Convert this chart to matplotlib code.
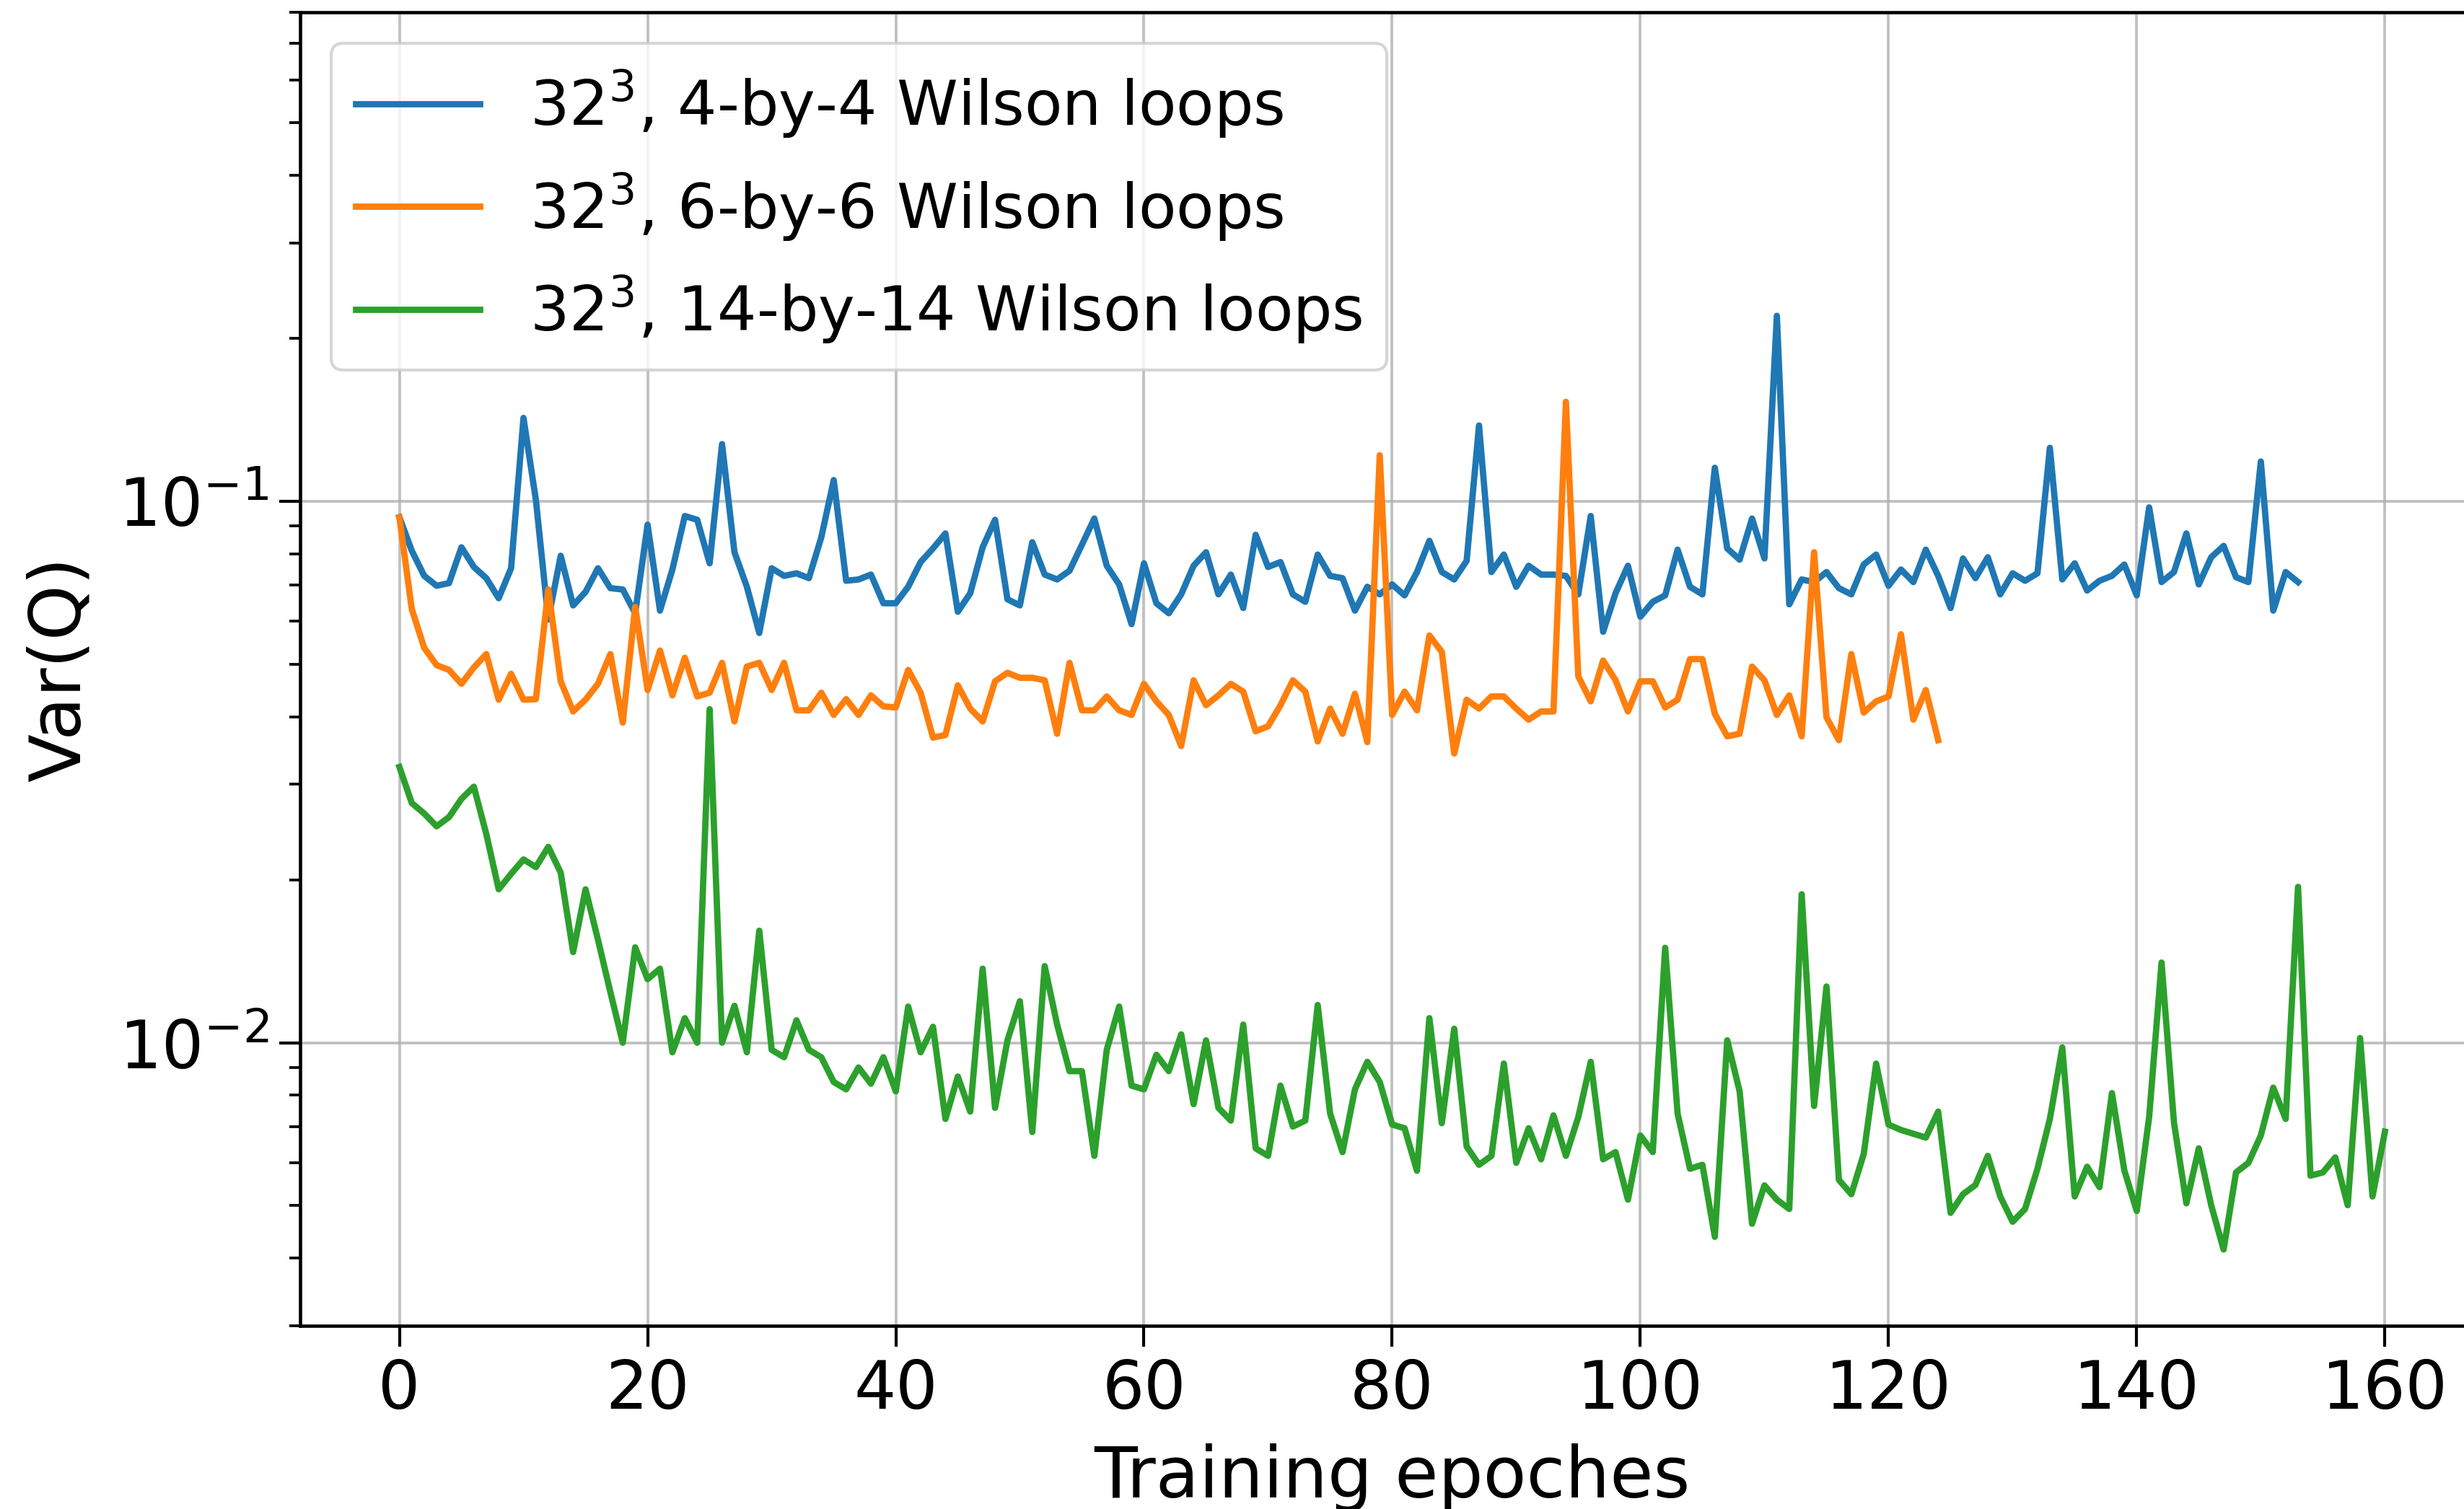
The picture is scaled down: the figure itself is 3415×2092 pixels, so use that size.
import numpy as np
import matplotlib
matplotlib.use('Agg')
import matplotlib.pyplot as plt

# Var(Q) per training epoch
var_4x4 = [0.0934, 0.081, 0.0728, 0.0698, 0.0706, 0.0822, 0.0756, 0.0721, 0.0662, 0.0752,
           0.1425, 0.1005, 0.0605, 0.0793, 0.0642, 0.068, 0.0752, 0.0691, 0.0687, 0.0621,
           0.0905, 0.0628, 0.0748, 0.0939, 0.0924, 0.0768, 0.1275, 0.0805, 0.0695, 0.0571,
           0.0752, 0.0728, 0.0736, 0.0721, 0.0858, 0.1094, 0.0713, 0.0717, 0.0732, 0.0648,
           0.0648, 0.0695, 0.0772, 0.0818, 0.0872, 0.0625, 0.0676, 0.0822, 0.0924, 0.0659,
           0.0642, 0.084, 0.0732, 0.0717, 0.0744, 0.0831, 0.0929, 0.076, 0.0702, 0.0593,
           0.0768, 0.0648, 0.0621, 0.0673, 0.076, 0.0805, 0.0673, 0.0732, 0.0635, 0.0867,
           0.0756, 0.0772, 0.0673, 0.0652, 0.0797, 0.0728, 0.0721, 0.0628, 0.0695, 0.0673,
           0.0702, 0.067, 0.074, 0.0845, 0.074, 0.0717, 0.0776, 0.138, 0.074, 0.0797,
           0.0695, 0.076, 0.0732, 0.0732, 0.0728, 0.0673, 0.0939, 0.0574, 0.0676, 0.076,
           0.0612, 0.0652, 0.067, 0.0814, 0.0695, 0.0673, 0.1153, 0.0818, 0.078, 0.0929,
           0.0784, 0.22, 0.0645, 0.0717, 0.0709, 0.074, 0.0691, 0.0673, 0.0764, 0.0797,
           0.0698, 0.0748, 0.0709, 0.0814, 0.0728, 0.0635, 0.0784, 0.0721, 0.0788, 0.0673,
           0.0736, 0.0713, 0.0736, 0.1255, 0.0717, 0.0768, 0.0684, 0.0713, 0.0728, 0.0764,
           0.067, 0.0974, 0.0709, 0.074, 0.0872, 0.0702, 0.0788, 0.0827, 0.0724, 0.0709,
           0.1184, 0.0628, 0.074, 0.0709]

var_6x6 = [0.0934, 0.0632, 0.0536, 0.0498, 0.0488, 0.046, 0.0493, 0.0522, 0.043, 0.048,
           0.043, 0.0431, 0.0687, 0.0465, 0.0409, 0.043, 0.046, 0.0522, 0.039, 0.0638,
           0.0448, 0.053, 0.0438, 0.0514, 0.0436, 0.0443, 0.0503, 0.0392, 0.0495, 0.0503,
           0.0448, 0.0503, 0.0411, 0.0411, 0.0443, 0.0403, 0.0431, 0.0403, 0.0438, 0.0418,
           0.0416, 0.0488, 0.0443, 0.0366, 0.037, 0.0457, 0.0414, 0.0392, 0.0465, 0.0482,
           0.0472, 0.0472, 0.0467, 0.0372, 0.0503, 0.0411, 0.0411, 0.0436, 0.0411, 0.0403,
           0.046, 0.0427, 0.0403, 0.0353, 0.0467, 0.042, 0.0438, 0.046, 0.0445, 0.0376,
           0.0384, 0.042, 0.0467, 0.0445, 0.036, 0.0414, 0.0372, 0.0441, 0.0359, 0.1216,
           0.0403, 0.0445, 0.0411, 0.0565, 0.0527, 0.0342, 0.043, 0.0414, 0.0436, 0.0436,
           0.0414, 0.0395, 0.0409, 0.0409, 0.1526, 0.0475, 0.0427, 0.0508, 0.0467, 0.0409,
           0.0465, 0.0465, 0.0416, 0.043, 0.0511, 0.0511, 0.0405, 0.0368, 0.0372, 0.0495,
           0.0467, 0.0403, 0.0438, 0.0368, 0.0805, 0.0399, 0.0362, 0.0522, 0.0407, 0.0427,
           0.0436, 0.0568, 0.0395, 0.0448, 0.0362]

var_14x14 = [0.0323, 0.0277, 0.0265, 0.0251, 0.0261, 0.0282, 0.0297, 0.0243, 0.0192, 0.0205,
             0.0218, 0.0211, 0.023, 0.0206, 0.0147, 0.0192, 0.0155, 0.0124, 0.0100, 0.015,
             0.0131, 0.0137, 0.0096, 0.0111, 0.0100, 0.0413, 0.0100, 0.0117, 0.0096, 0.0161,
             0.0097, 0.0094, 0.011, 0.0097, 0.0094, 0.00846, 0.0082, 0.009, 0.0084, 0.0094,
             0.00813, 0.01166, 0.0096, 0.0107, 0.00723, 0.00866, 0.00746, 0.0137, 0.00758, 0.0101,
             0.01193, 0.00684, 0.01385, 0.0108, 0.00886, 0.00886, 0.00618, 0.0097, 0.01166, 0.00833,
             0.0082, 0.0095, 0.00886, 0.01036, 0.0077, 0.0101, 0.00758, 0.00718, 0.0108, 0.00638,
             0.00618, 0.00833, 0.0070, 0.00718, 0.01174, 0.0074, 0.00628, 0.0082, 0.00922, 0.00846,
             0.00706, 0.00695, 0.0058, 0.0111, 0.0071, 0.01061, 0.00643, 0.00595, 0.00618, 0.00915,
             0.0060, 0.00695, 0.00609, 0.00734, 0.00618, 0.00729, 0.00922, 0.00609, 0.00628, 0.00513,
             0.00674, 0.00628, 0.01497, 0.0074, 0.00585, 0.00595, 0.00438, 0.0101, 0.00813, 0.00463,
             0.00545, 0.00513, 0.00493, 0.0188, 0.00764, 0.0127, 0.00558, 0.00525, 0.00623, 0.00915,
             0.00706, 0.0069, 0.00679, 0.00668, 0.00746, 0.00485, 0.00525, 0.00546, 0.00618, 0.0052,
             0.00467, 0.00493, 0.00585, 0.00723, 0.0098, 0.0052, 0.0059, 0.00541, 0.00807, 0.00581,
             0.00489, 0.00729, 0.01406, 0.00712, 0.00505, 0.00638, 0.00501, 0.00415, 0.00576, 0.006,
             0.00674, 0.00826, 0.00723, 0.0194, 0.00568, 0.00576, 0.00614, 0.00501, 0.0102, 0.0052,
             0.00685]

labels = [r'$32^3$, 4-by-4 Wilson loops',
          r'$32^3$, 6-by-6 Wilson loops',
          r'$32^3$, 14-by-14 Wilson loops']

fig = plt.figure(figsize=(3415 / 300, 2092 / 300), dpi=300)
# axes runs slightly past the right edge, as in the reference
ax = fig.add_axes([0.1218, 0.1214, 0.8864, 0.8705])

for series, lab in zip([var_4x4, var_6x6, var_14x14], labels):
    ax.plot(np.arange(len(series)), series, lw=2.1, label=lab)

ax.set_yscale('log')
ax.set_xlim(-8, 168)
ax.set_ylim(0.003, 0.8)
ax.set_xticks([0, 20, 40, 60, 80, 100, 120, 140, 160])
ax.grid(True, which='major', color='#b0b0b0', alpha=0.8, lw=0.9)

ax.set_xlabel('Training epoches', fontsize=23.5, labelpad=7)
ax.set_ylabel('Var(Q)', fontsize=23.5, labelpad=8)
ax.tick_params(axis='both', which='major', labelsize=22, length=7, width=1)
ax.tick_params(axis='y', which='minor', length=3.5, width=0.9)
for s in ax.spines.values():
    s.set_linewidth(1.1)

ax.legend(loc='upper left', fontsize=20.6)

fig.savefig('out.png', dpi=300)
